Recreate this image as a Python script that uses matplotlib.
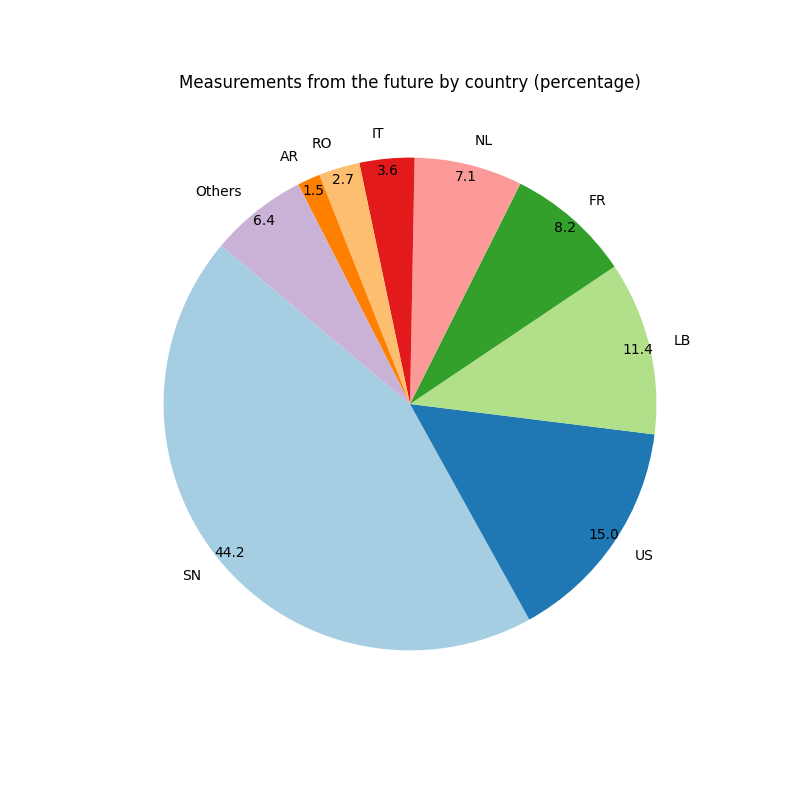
import numpy as np
import matplotlib
matplotlib.use("Agg")
import matplotlib.pyplot as plt

# 各国占比（逆时针顺序）
countries = ["SN", "US", "LB", "FR", "NL", "IT", "RO", "AR", "Others"]
shares = [44.2, 15.0, 11.4, 8.2, 7.1, 3.6, 2.7, 1.5, 6.4]

colors = plt.cm.Paired(np.arange(len(countries)))

fig, ax = plt.subplots(figsize=(8, 8), dpi=100)
ax.pie(shares, labels=countries, colors=colors, autopct="%1.1f",
       startangle=140, pctdistance=0.95)
ax.set_title("Measurements from the future by country (percentage)")
fig.savefig("out.png")
